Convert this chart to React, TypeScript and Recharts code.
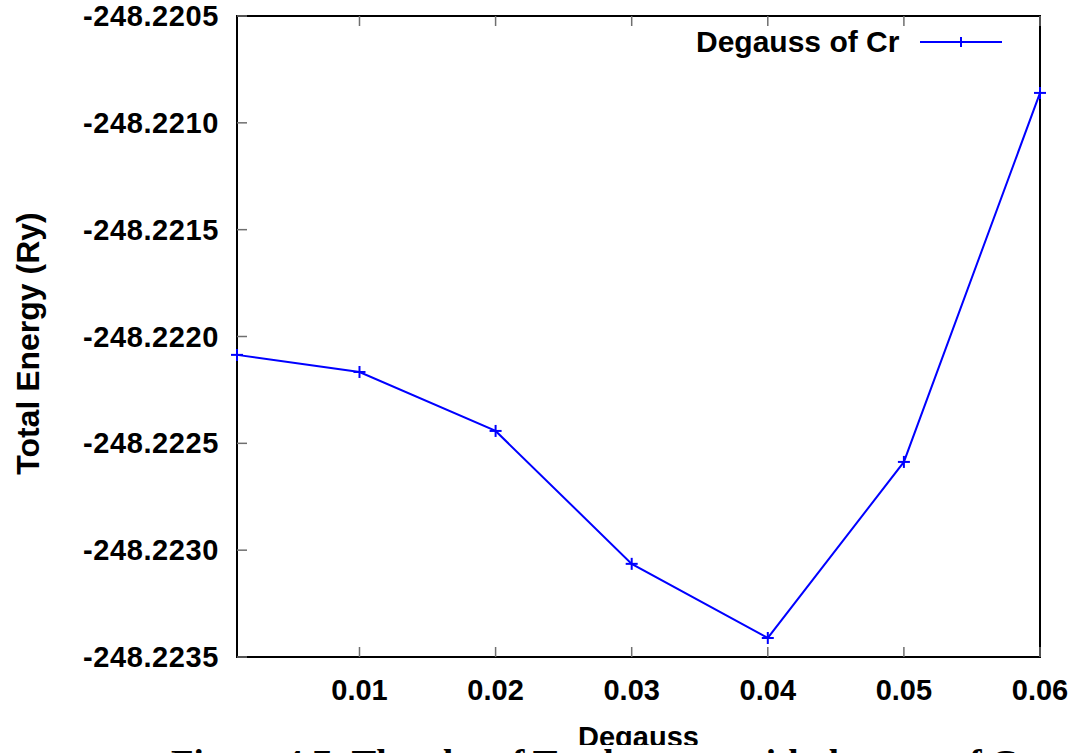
import { Line, LineChart, ReferenceArea, XAxis, YAxis } from "recharts";

const degauss = [0.001, 0.01, 0.02, 0.03, 0.04, 0.05, 0.06];
const totalEnergy = [
  -248.222086, -248.222166, -248.222442, -248.223064, -248.223411, -248.222587, -248.22086,
];
const xTicks = [0.01, 0.02, 0.03, 0.04, 0.05, 0.06];
const yTicks = [-248.2235, -248.223, -248.2225, -248.222, -248.2215, -248.221, -248.2205];
const xDomain: [number, number] = [0.001, 0.06];
const yDomain: [number, number] = [-248.2235, -248.2205];

const seriesName = "Degauss of Cr";
const caption = "Figure 4.7: The plot of Total energy with degauss of Cr";

const data = degauss.map((d, i) => ({ degauss: d, energy: totalEnergy[i] }));

const BLUE = "#0000ff";
const TICK = "#6f6f6f";
const FONT = "'Liberation Sans', Arial, sans-serif";
const FS = 29;

function PlusDot(props: any) {
  const { cx, cy } = props;
  if (cx == null || cy == null) return null;
  return (
    <g>
      <line x1={cx - 6} y1={cy} x2={cx + 6} y2={cy} stroke={BLUE} strokeWidth={2} />
      <line x1={cx} y1={cy - 6} x2={cx} y2={cy + 6} stroke={BLUE} strokeWidth={2} />
    </g>
  );
}

// ticks point into the plot, gnuplot style
function BottomTick({ x, y, payload }: any) {
  return (
    <g>
      <line x1={x} y1={y} x2={x} y2={y - 10} stroke={TICK} strokeWidth={1.5} />
      <text x={x} y={y + 43} textAnchor="middle" fontFamily={FONT} fontWeight="bold" fontSize={FS} fill="#000">
        {Number(payload.value).toFixed(2)}
      </text>
    </g>
  );
}

function TopTick({ x, y }: any) {
  return <line x1={x} y1={y} x2={x} y2={y + 10} stroke={TICK} strokeWidth={1.5} />;
}

function LeftTick({ x, y, payload }: any) {
  return (
    <g>
      <line x1={x} y1={y} x2={x + 10} y2={y} stroke={TICK} strokeWidth={1.5} />
      <text
        x={x - 18}
        y={y + 10}
        textAnchor="end"
        fontFamily={FONT}
        fontWeight="bold"
        fontSize={FS}
        letterSpacing={0.6}
        fill="#000"
      >
        {Number(payload.value).toFixed(4)}
      </text>
    </g>
  );
}

function RightTick({ x, y }: any) {
  return <line x1={x} y1={y} x2={x - 10} y2={y} stroke={TICK} strokeWidth={1.5} />;
}

function YLabel({ viewBox }: any) {
  const cx = viewBox.x + 39;
  const cy = viewBox.y + viewBox.height / 2 + 7;
  return (
    <text
      x={cx}
      y={cy}
      transform={`rotate(-90, ${cx}, ${cy})`}
      textAnchor="middle"
      fontFamily={FONT}
      fontWeight="bold"
      fontSize={32}
      fill="#000"
    >
      Total Energy (Ry)
    </text>
  );
}

export default function App() {
  return (
    <div style={{ position: "absolute", left: 0, top: 0, width: 1085, height: 753, overflow: "hidden", background: "#fff" }}>
      <LineChart width={1085} height={753} data={data} margin={{ top: 15, right: 44, bottom: 95, left: 0 }}>
        <XAxis
          dataKey="degauss"
          type="number"
          domain={xDomain}
          ticks={xTicks}
          height={1}
          axisLine={false}
          tickLine={false}
          tickSize={0}
          tickMargin={0}
          tick={<BottomTick />}
          interval={0}
          label={{ value: "Degauss", position: "bottom", offset: 68, fontFamily: FONT, fontWeight: "bold", fontSize: FS, fill: "#000" }}
        />
        <XAxis
          xAxisId="top"
          dataKey="degauss"
          type="number"
          orientation="top"
          domain={xDomain}
          ticks={xTicks}
          height={1}
          axisLine={false}
          tickLine={false}
          tickSize={0}
          tickMargin={0}
          tick={<TopTick />}
          interval={0}
        />
        <YAxis
          type="number"
          domain={yDomain}
          ticks={yTicks}
          width={237}
          axisLine={false}
          tickLine={false}
          tickSize={0}
          tickMargin={0}
          tick={<LeftTick />}
          interval={0}
          label={{ content: <YLabel /> }}
        />
        <YAxis
          yAxisId="right"
          type="number"
          orientation="right"
          domain={yDomain}
          ticks={yTicks}
          width={1}
          axisLine={false}
          tickLine={false}
          tickSize={0}
          tickMargin={0}
          tick={<RightTick />}
          interval={0}
        />
        <ReferenceArea
          x1={xDomain[0]}
          x2={xDomain[1]}
          y1={yDomain[0]}
          y2={yDomain[1]}
          fill="none"
          stroke="#000"
          strokeWidth={2}
        />
        <Line
          type="linear"
          dataKey="energy"
          name={seriesName}
          stroke={BLUE}
          strokeWidth={2}
          dot={<PlusDot />}
          activeDot={false}
          isAnimationActive={false}
        />
      </LineChart>
      {/* series key, top right inside the frame */}
      <div
        style={{
          position: "absolute",
          top: 27,
          left: 696,
          display: "flex",
          alignItems: "center",
          fontFamily: FONT,
          fontWeight: "bold",
          fontSize: 30,
        }}
      >
        <span style={{ lineHeight: 1 }}>{seriesName}</span>
        <svg width={84} height={16} style={{ marginLeft: 20 }}>
          <line x1={1} y1={8} x2={83} y2={8} stroke={BLUE} strokeWidth={2} />
          <line x1={42} y1={3} x2={42} y2={13} stroke={BLUE} strokeWidth={2} />
        </svg>
      </div>
      <div
        style={{
          position: "absolute",
          top: 745,
          left: 171,
          fontFamily: "'Liberation Serif', 'Times New Roman', serif",
          fontWeight: "bold",
          fontSize: 37,
          lineHeight: 1,
          whiteSpace: "nowrap",
          background: "#fff",
        }}
      >
        {caption}
      </div>
    </div>
  );
}
